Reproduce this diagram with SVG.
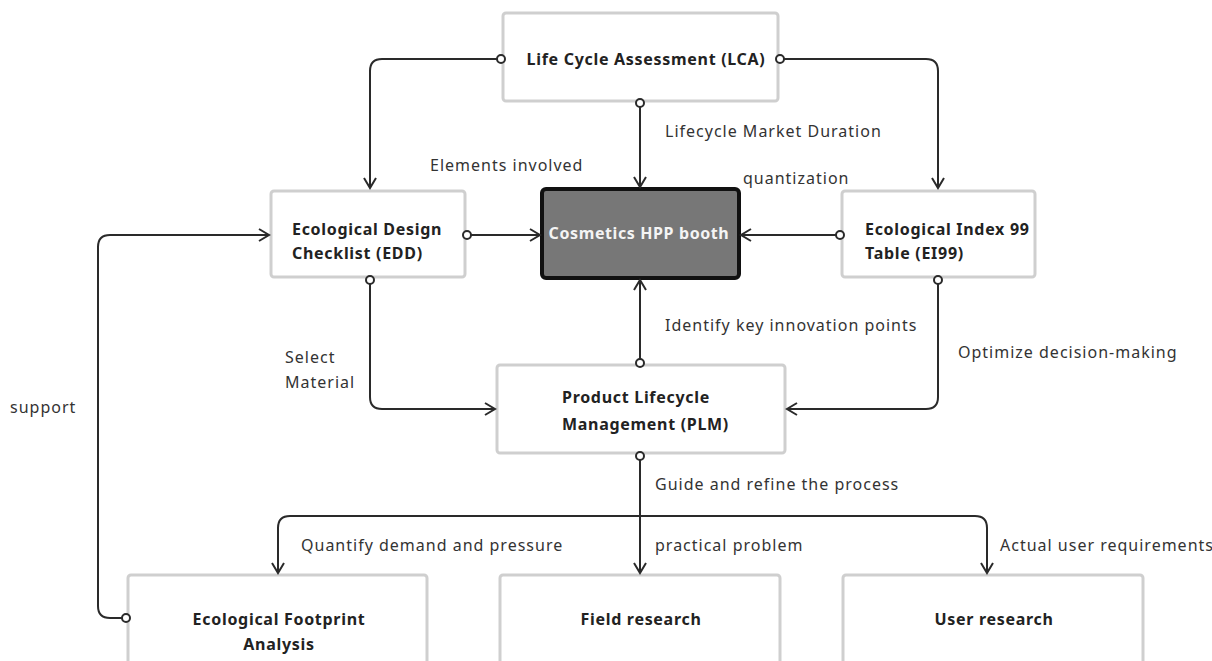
<svg xmlns="http://www.w3.org/2000/svg" width="1212" height="661" viewBox="0 0 1212 661">
  <style>
    .box { fill: #ffffff; stroke: #cfcfcf; stroke-width: 3; }
    .core { fill: #777777; stroke: #111111; stroke-width: 4; }
    .title { font-family: "Noto Sans", "Open Sans", sans-serif; font-size: 16px; font-weight: bold; letter-spacing: 0.7px; fill: #222222; }
    .title-w { font-family: "Noto Sans", "Open Sans", sans-serif; font-size: 16px; font-weight: bold; letter-spacing: 0.6px; fill: #f4f4f4; }
    .lbl { font-family: "Noto Sans", "Open Sans", sans-serif; font-size: 16px; letter-spacing: 1px; fill: #333333; }
    .wire { fill: none; stroke: #2a2a2a; stroke-width: 2; marker-start: url(#dot); marker-end: url(#arr); }
    .wire-plain { fill: none; stroke: #2a2a2a; stroke-width: 2; marker-end: url(#arr); }
  </style>
  <defs>
    <marker id="arr" viewBox="0 0 12 14" refX="11" refY="7" markerWidth="12" markerHeight="14" orient="auto" markerUnits="userSpaceOnUse" overflow="visible">
      <path d="M1,1 L11,7 L1,13" fill="none" stroke="#2a2a2a" stroke-width="2"/>
    </marker>
    <marker id="dot" viewBox="0 0 12 12" refX="6" refY="6" markerWidth="12" markerHeight="12" markerUnits="userSpaceOnUse" overflow="visible">
      <circle cx="6" cy="6" r="4" fill="#ffffff" stroke="#2a2a2a" stroke-width="2"/>
    </marker>
  </defs>

  <rect width="1212" height="661" fill="#ffffff"/>

  <!-- nodes -->
  <g id="lca">
    <rect class="box" x="503" y="13" width="275" height="88" rx="3"/>
    <text class="title" x="646" y="65" text-anchor="middle">Life Cycle Assessment (LCA)</text>
  </g>
  <g id="edd">
    <rect class="box" x="271" y="191" width="194" height="86" rx="3"/>
    <text class="title" x="292" y="235">Ecological Design</text>
    <text class="title" x="292" y="259">Checklist (EDD)</text>
  </g>
  <g id="core">
    <rect class="core" x="542" y="189" width="197" height="89" rx="4"/>
    <text class="title-w" x="639" y="239" text-anchor="middle">Cosmetics HPP booth</text>
  </g>
  <g id="ei99">
    <rect class="box" x="842" y="191" width="193" height="86" rx="3"/>
    <text class="title" x="865" y="235">Ecological Index 99</text>
    <text class="title" x="865" y="259">Table (EI99)</text>
  </g>
  <g id="plm">
    <rect class="box" x="497" y="365" width="288" height="88" rx="3"/>
    <text class="title" x="562" y="403">Product Lifecycle</text>
    <text class="title" x="562" y="430">Management (PLM)</text>
  </g>
  <g id="footprint">
    <rect class="box" x="128" y="575" width="299" height="100" rx="3"/>
    <text class="title" x="279" y="625" text-anchor="middle">Ecological Footprint</text>
    <text class="title" x="279" y="650" text-anchor="middle">Analysis</text>
  </g>
  <g id="field">
    <rect class="box" x="500" y="575" width="280" height="100" rx="3"/>
    <text class="title" x="641" y="625" text-anchor="middle">Field research</text>
  </g>
  <g id="user">
    <rect class="box" x="843" y="575" width="300" height="100" rx="3"/>
    <text class="title" x="994" y="625" text-anchor="middle">User research</text>
  </g>

  <!-- connectors, drawn on top so the port circles sit over the box edges -->
  <g id="connectors">
    <path class="wire" d="M501,59 H382 Q370,59 370,71 V188"/>
    <path class="wire" d="M780,59 H926 Q938,59 938,71 V188"/>
    <path class="wire" d="M640,103 V187"/>
    <path class="wire" d="M467,235 H540"/>
    <path class="wire" d="M840,235 H741"/>
    <path class="wire" d="M640,363 V280"/>
    <path class="wire" d="M370,280 V397 Q370,409 382,409 H495"/>
    <path class="wire" d="M938,280 V397 Q938,409 926,409 H787"/>
    <path class="wire" d="M640,456 V573"/>
    <path class="wire-plain" d="M640,516 H290 Q278,516 278,528 V573"/>
    <path class="wire-plain" d="M640,516 H975 Q987,516 987,528 V573"/>
    <path class="wire" d="M126,618 H110 Q98,618 98,606 V247 Q98,235 110,235 H269"/>

    <text class="lbl" x="665" y="137">Lifecycle Market Duration</text>
    <text class="lbl" x="430" y="171">Elements involved</text>
    <text class="lbl" x="743" y="184">quantization</text>
    <text class="lbl" x="665" y="331">Identify key innovation points</text>
    <text class="lbl" x="285" y="363">Select</text>
    <text class="lbl" x="285" y="388">Material</text>
    <text class="lbl" x="958" y="358">Optimize decision-making</text>
    <text class="lbl" x="10" y="413">support</text>
    <text class="lbl" x="655" y="490">Guide and refine the process</text>
    <text class="lbl" x="301" y="551">Quantify demand and pressure</text>
    <text class="lbl" x="655" y="551">practical problem</text>
    <text class="lbl" x="1000" y="551">Actual user requirements</text>
  </g>
</svg>
